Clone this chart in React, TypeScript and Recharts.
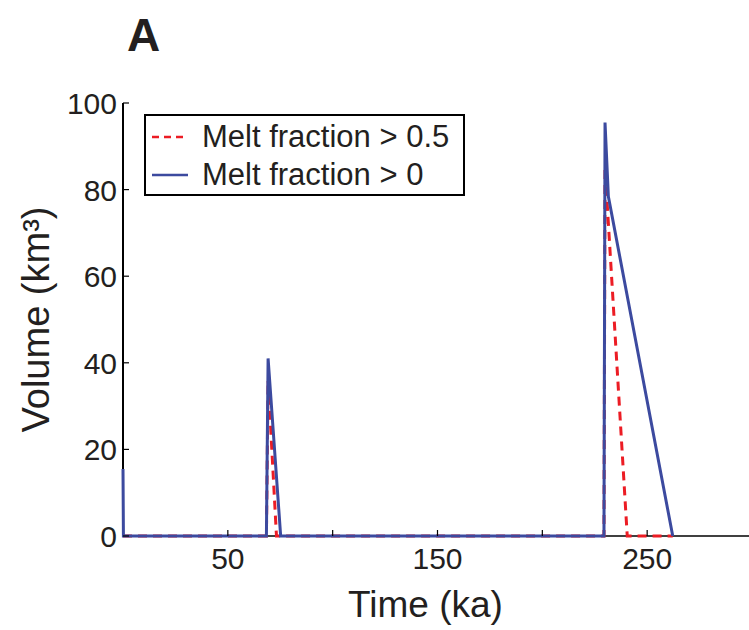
import { LineChart, Line, XAxis, YAxis, Legend, Label } from 'recharts';

const blueTime = [0, 0.2, 68.4, 69.2, 75.2, 229.4, 229.9, 231.5, 262.2];
const blueVolume = [15.5, 0, 0, 41, 0, 0, 95.5, 78.4, 0];
const redTime = [0, 0.2, 68.4, 69.2, 73.2, 229.4, 229.9, 240.5, 262.2];
const redVolume = [0, 0, 0, 36, 0, 0, 85, 0, 0];

const xTicks = [50, 100, 150, 200, 250];
const xTickLabels = [50, 150, 250];
const yTicks = [0, 20, 40, 60, 80, 100];

const legendItems = [
  { label: 'Melt fraction > 0.5', color: '#ec1c24', dashed: true },
  { label: 'Melt fraction > 0', color: '#3c4a9f', dashed: false },
];

const FONT = '"Liberation Sans", Arial, Helvetica, sans-serif';
const INK = '#231f20';

const blueData = blueTime.map((t, i) => ({ time: t, volume: blueVolume[i] }));
const redData = redTime.map((t, i) => ({ time: t, volume: redVolume[i] }));

const BottomTick = (props: any) => {
  const { x, y, payload } = props;
  return (
    <g>
      <line x1={x} y1={y} x2={x} y2={y - 6} stroke="#000" strokeWidth={1.2} />
      {xTickLabels.includes(payload.value) && (
        <text x={x} y={y + 33} textAnchor="middle" fontSize={30} fontFamily={FONT} fill={INK}>
          {payload.value}
        </text>
      )}
    </g>
  );
};

const TopTick = (props: any) => {
  const { x, y } = props;
  return <line x1={x} y1={y} x2={x} y2={y + 6} stroke="#000" strokeWidth={1.2} />;
};

const LeftTick = (props: any) => {
  const { x, y, payload } = props;
  return (
    <g>
      <line x1={x} y1={y} x2={x + 6} y2={y} stroke="#000" strokeWidth={1.2} />
      <text x={x - 6} y={y + 11} textAnchor="end" fontSize={30} fontFamily={FONT} fill={INK}>
        {payload.value}
      </text>
    </g>
  );
};

const RightTick = (props: any) => {
  const { x, y } = props;
  return <line x1={x} y1={y} x2={x - 6} y2={y} stroke="#000" strokeWidth={1.2} />;
};

const renderLegend = () => (
  <div
    style={{
      width: 321,
      height: 82,
      boxSizing: 'border-box',
      border: '2px solid #000',
      background: '#fff',
      paddingTop: 2,
      fontFamily: FONT,
      fontSize: 31,
      color: INK,
    }}
  >
    {legendItems.map((item) => (
      <div key={item.label} style={{ display: 'flex', alignItems: 'center', height: 38 }}>
        <svg width={56} height={10} style={{ flex: 'none' }}>
          <line
            x1={6}
            y1={5}
            x2={42}
            y2={5}
            stroke={item.color}
            strokeWidth={2.5}
            strokeDasharray={item.dashed ? '7 5' : undefined}
          />
        </svg>
        <span style={{ whiteSpace: 'nowrap', lineHeight: '38px' }}>{item.label}</span>
      </div>
    ))}
  </div>
);

export default function App() {
  return (
    <div style={{ position: 'absolute', left: 0, top: 0, width: 749, height: 630, background: '#fff' }}>
      <div
        style={{
          position: 'absolute',
          left: 127,
          top: 8,
          fontFamily: FONT,
          fontWeight: 'bold',
          fontSize: 46,
          color: INK,
          zIndex: 2,
        }}
      >
        A
      </div>
      <LineChart width={749} height={630} margin={{ top: 103, right: -3, bottom: 0, left: 0 }}>
        <XAxis
          dataKey="time"
          type="number"
          domain={[0, 300]}
          ticks={xTicks}
          interval={0}
          height={94}
          tickSize={0}
          tickMargin={0}
          tickLine={false}
          axisLine={{ stroke: '#000', strokeWidth: 1.5 }}
          tick={<BottomTick />}
        >
          <Label
            content={({ viewBox }: any) => (
              <text
                x={viewBox.x + viewBox.width / 2 - 12}
                y={viewBox.y + 81}
                textAnchor="middle"
                fontSize={37}
                fontFamily={FONT}
                fill={INK}
              >
                Time (ka)
              </text>
            )}
          />
        </XAxis>
        <XAxis
          xAxisId="top"
          orientation="top"
          dataKey="time"
          type="number"
          domain={[0, 300]}
          ticks={xTicks}
          interval={0}
          height={0}
          tickSize={0}
          tickMargin={0}
          tickLine={false}
          axisLine={{ stroke: '#000', strokeWidth: 2 }}
          tick={<TopTick />}
        />
        <YAxis
          type="number"
          domain={[0, 100]}
          ticks={yTicks}
          interval={0}
          width={123}
          tickSize={0}
          tickMargin={0}
          tickLine={false}
          axisLine={{ stroke: '#000', strokeWidth: 2 }}
          tick={<LeftTick />}
        >
          <Label
            content={({ viewBox }: any) => {
              const cx = 36;
              const cy = viewBox.y + viewBox.height / 2;
              return (
                <text
                  x={cx}
                  y={cy}
                  transform={`rotate(-90, ${cx}, ${cy})`}
                  textAnchor="middle"
                  dominantBaseline="central"
                  fontSize={38}
                  fontFamily={FONT}
                  fill={INK}
                >
                  Volume (km³)
                </text>
              );
            }}
          />
        </YAxis>
        <YAxis
          yAxisId="right"
          orientation="right"
          type="number"
          domain={[0, 100]}
          ticks={yTicks}
          interval={0}
          width={0}
          tickSize={0}
          tickMargin={0}
          tickLine={false}
          axisLine={{ stroke: '#000', strokeWidth: 2 }}
          tick={<RightTick />}
        />
        <Legend
          layout="horizontal"
          verticalAlign="middle"
          align="center"
          content={renderLegend}
          wrapperStyle={{ position: 'absolute', left: 144, top: 114, width: 321, height: 82 }}
        />
        <Line
          data={redData}
          dataKey="volume"
          type="linear"
          stroke="#ec1c24"
          strokeWidth={3}
          strokeDasharray="9 6"
          dot={false}
          activeDot={false}
          isAnimationActive={false}
          zIndex={600}
        />
        <Line
          data={blueData}
          dataKey="volume"
          type="linear"
          stroke="#3c4a9f"
          strokeWidth={3}
          dot={false}
          activeDot={false}
          isAnimationActive={false}
          zIndex={601}
        />
      </LineChart>
    </div>
  );
}
